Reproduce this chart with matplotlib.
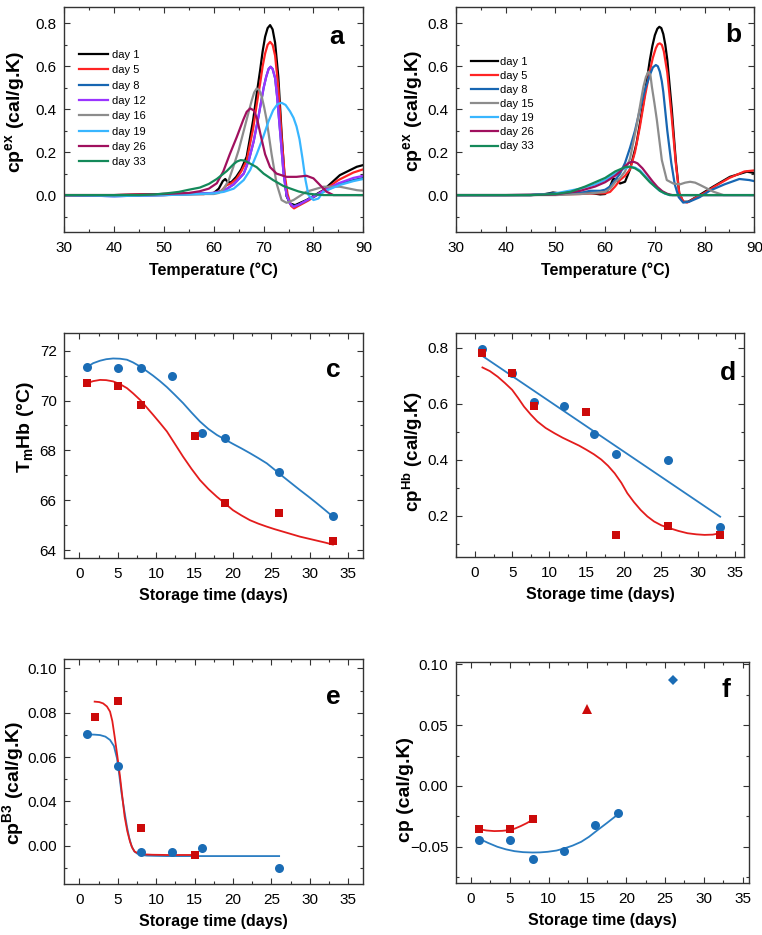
import numpy as np
import matplotlib
matplotlib.use('Agg')
import matplotlib.pyplot as plt
from matplotlib.ticker import MultipleLocator, FixedLocator, FixedFormatter

plt.rcParams['font.family'] = ['Liberation Sans', 'DejaVu Sans']
plt.rcParams['mathtext.fontset'] = 'custom'
plt.rcParams['mathtext.rm'] = 'Liberation Sans'
plt.rcParams['mathtext.bf'] = 'Liberation Sans:bold'

# ---------------- panel a: DSC curves ----------------
a_labels = ['day 1', 'day 5', 'day 8', 'day 12', 'day 16', 'day 19', 'day 26', 'day 33']
a_colors = ['#000000', '#ff2424', '#1766b2', '#9a34ff', '#8c8c8c', '#38b6ff', '#a0105e', '#14895a']

a_T_d1 = [30, 40, 50, 55, 58, 60, 61, 61.8, 62.3, 62.8, 63.5, 64.5, 65.5, 66.6, 67.9, 68.6, 69.3, 69.8,
          70.3, 70.8, 71.3, 71.8, 72.3, 72.95, 73.6, 74.15, 74.6, 75.3, 76.3, 78.6, 82, 85.3, 88.7, 90]
a_v_d1 = [0, 0, 0.005, 0.005, 0.005, 0.01, 0.03, 0.065, 0.075, 0.06, 0.06, 0.085, 0.12, 0.179, 0.35, 0.47,
          0.582, 0.67, 0.738, 0.778, 0.792, 0.772, 0.71, 0.551, 0.29, 0.1, -0.005, -0.039, -0.047,
          -0.023, 0.023, 0.093, 0.132, 0.14]
a_T_d5 = [30, 40, 50, 55, 58, 60, 61.5, 62.5, 63.5, 64.5, 65.5, 66.6, 67.9, 68.6, 69.3, 69.8, 70.3, 70.8,
          71.3, 71.8, 72.3, 72.95, 73.6, 74.2, 74.8, 75.5, 76.1, 77, 79, 82, 85, 88, 90]
a_v_d5 = [0, 0, 0.005, 0.005, 0.005, 0.01, 0.02, 0.045, 0.055, 0.075, 0.11, 0.16, 0.31, 0.42, 0.52, 0.6,
          0.66, 0.7, 0.714, 0.7, 0.65, 0.5, 0.27, 0.1, 0.005, -0.05, -0.062, -0.05, -0.025, 0.02, 0.07,
          0.105, 0.12]
a_T_d8 = [30, 40, 50, 55, 60, 62, 64, 66, 67, 68, 69, 70, 70.5, 71, 71.4, 71.8, 72.3, 72.7, 73.4, 74,
          74.6, 75.3, 76, 77, 79, 82, 85, 88, 90]
a_v_d8 = [0, -0.005, 0, 0.005, 0.01, 0.02, 0.05, 0.1, 0.16, 0.25, 0.37, 0.5, 0.55, 0.588, 0.598, 0.588,
          0.545, 0.46, 0.27, 0.1, 0.0, -0.04, -0.052, -0.045, -0.02, 0.015, 0.05, 0.07, 0.08]
a_T_d12 = a_T_d8
a_v_d12 = [0, -0.005, 0, 0.005, 0.01, 0.02, 0.05, 0.1, 0.16, 0.25, 0.37, 0.5, 0.55, 0.588, 0.598, 0.588,
           0.545, 0.46, 0.27, 0.1, 0.0, -0.04, -0.055, -0.045, -0.02, 0.02, 0.055, 0.08, 0.09]
a_T_d16 = [30, 40, 50, 55, 58, 60, 61, 62, 63, 63.9, 65, 65.9, 66.8, 67.6, 68.1, 68.6, 69.1, 69.6, 70.1,
           70.6, 71.6, 72.6, 73.6, 74.6, 76, 78.6, 82, 85.3, 88.7, 90]
a_v_d16 = [0, 0, 0, 0.003, 0.005, 0.005, 0.01, 0.03, 0.07, 0.13, 0.21, 0.29, 0.37, 0.44, 0.478, 0.497,
           0.49, 0.46, 0.41, 0.35, 0.19, 0.054, -0.023, -0.036, -0.023, 0.016, 0.039, 0.039, 0.023, 0.02]
a_T_d19 = [30, 40, 50, 55, 60, 62, 64, 66, 67.3, 68.6, 69.9, 71, 71.9, 72.8, 73.6, 74.4, 75.3, 76, 76.6,
           77.2, 77.8, 78.4, 79, 80, 81, 82, 85.3, 88, 90]
a_v_d19 = [0, -0.005, 0, 0.003, 0.008, 0.015, 0.03, 0.07, 0.117, 0.19, 0.27, 0.345, 0.395, 0.424, 0.43,
           0.42, 0.39, 0.36, 0.32, 0.26, 0.17, 0.07, 0.0, -0.023, -0.016, 0.016, 0.047, 0.065, 0.075]
a_T_d26 = [30, 40, 45, 50, 55, 57.2, 59, 60.6, 61.9, 63.2, 64.6, 65.9, 66.6, 67.3, 68, 68.7, 69.3, 70.3,
           71.3, 72.6, 74.6, 76.6, 78.6, 80, 81.3, 82.6, 84, 90]
a_v_d26 = [0, 0, 0.002, 0.005, 0.01, 0.018, 0.03, 0.055, 0.11, 0.19, 0.27, 0.35, 0.388, 0.404, 0.395,
           0.355, 0.29, 0.19, 0.13, 0.10, 0.085, 0.085, 0.09, 0.078, 0.047, 0.016, 0.0, 0.0]
a_T_d33 = [30, 40, 45, 48, 50.5, 53, 55, 57.2, 59, 60.6, 62.6, 64, 64.7, 65.4, 66.1, 66.8, 68.6, 70, 71.9,
           74, 75.3, 77, 78.6, 80, 82, 90]
a_v_d33 = [0, 0, 0, 0.003, 0.008, 0.015, 0.025, 0.035, 0.052, 0.075, 0.112, 0.145, 0.157, 0.163, 0.161,
           0.153, 0.13, 0.1, 0.07, 0.042, 0.031, 0.017, 0.008, 0.004, 0.0, 0.0]

# ---------------- panel b: DSC curves ----------------
b_labels = ['day 1', 'day 5', 'day 8', 'day 15', 'day 19', 'day 26', 'day 33']
b_colors = ['#000000', '#ff2424', '#1766b2', '#8c8c8c', '#38b6ff', '#a0105e', '#14895a']

b_T_d1 = [30, 40, 45, 48, 49.5, 51, 55, 57, 59, 60, 61, 61.6, 62.3, 63, 64, 65, 66.3, 67.7, 69, 69.5, 70,
          70.5, 70.9, 71.3, 71.7, 72.1, 72.5, 73.4, 74.2, 74.9, 75.7, 76.7, 78.4, 81.7, 85.1, 88.5, 90]
b_v_d1 = [0, 0, 0, 0.005, 0.012, 0.008, 0.01, 0.01, 0.003, 0.005, 0.04, 0.075, 0.075, 0.054, 0.062, 0.12,
          0.24, 0.43, 0.63, 0.695, 0.745, 0.775, 0.784, 0.778, 0.75, 0.7, 0.63, 0.40, 0.163, 0.008,
          -0.031, -0.031, -0.008, 0.039, 0.085, 0.109, 0.103]
b_T_d5 = [30, 40, 50, 55, 58, 60, 61, 62, 63, 64, 65, 66, 67, 68, 69, 69.6, 70.2, 70.6, 71, 71.4, 71.8,
          72.5, 73.4, 74.2, 74.9, 75.7, 76.5, 78, 80, 82, 85, 88, 90]
b_v_d5 = [0, 0, 0.003, 0.005, 0.008, 0.008, 0.015, 0.04, 0.07, 0.09, 0.12, 0.2, 0.32, 0.46, 0.58, 0.64,
          0.685, 0.703, 0.707, 0.7, 0.67, 0.57, 0.36, 0.15, 0.01, -0.03, -0.035, -0.015, 0.01, 0.04, 0.08,
          0.11, 0.115]
b_T_d8 = [30, 40, 50, 55, 57, 59, 60, 61, 62, 63, 64, 65, 66, 67, 68, 69, 69.6, 70.2, 70.6, 71, 71.4,
          71.7, 72.5, 73.3, 74, 74.8, 75.7, 77, 79, 81, 84, 87, 89, 90]
b_v_d8 = [0, 0, 0.003, 0.01, 0.02, 0.02, 0.025, 0.04, 0.07, 0.1, 0.15, 0.22, 0.3, 0.4, 0.49, 0.56, 0.595,
          0.606, 0.6, 0.575, 0.53, 0.48, 0.3, 0.15, 0.05, -0.01, -0.035, -0.03, -0.01, 0.02, 0.05, 0.075,
          0.07, 0.065]
b_T_d15 = [30, 40, 50, 55, 58, 60, 61, 62, 63, 64, 65, 66.3, 67.2, 67.7, 68.2, 68.7, 69.1, 69.4, 69.9,
           70.4, 71.4, 72.4, 73.7, 75.05, 76.1, 77.1, 78.1, 79.1, 81.75, 83.8, 90]
b_v_d15 = [0, 0, 0, 0.005, 0.01, 0.015, 0.03, 0.06, 0.08, 0.11, 0.17, 0.32, 0.44, 0.505, 0.55, 0.575,
           0.56, 0.505, 0.43, 0.35, 0.163, 0.07, 0.054, 0.05, 0.058, 0.062, 0.058, 0.047, 0.016, 0.0, 0.0]
b_T_d19 = [30, 40, 45, 50, 55, 58, 60, 62, 64, 65, 66, 67, 68, 69, 70, 71, 72, 73, 75, 90]
b_v_d19 = [0, 0, 0, 0.008, 0.03, 0.05, 0.07, 0.1, 0.125, 0.132, 0.128, 0.115, 0.09, 0.065, 0.04, 0.02,
           0.007, 0.0, 0.0, 0.0]
b_T_d26 = [30, 40, 45, 50, 55, 58, 60, 62, 63, 64, 64.7, 65.3, 65.9, 66.5, 67.5, 68.5, 69.5, 70.5, 71.5,
           72.5, 73.5, 75, 90]
b_v_d26 = [0, 0, 0, 0.003, 0.02, 0.04, 0.06, 0.09, 0.11, 0.135, 0.149, 0.155, 0.154, 0.148, 0.125, 0.095,
           0.065, 0.038, 0.018, 0.006, 0.0, 0.0, 0.0]
b_T_d33 = [30, 40, 45, 50, 53, 56, 58, 60, 62, 64, 65, 66, 67, 68, 69, 70, 71, 72, 73, 75, 90]
b_v_d33 = [0, 0, 0, 0.005, 0.015, 0.04, 0.06, 0.08, 0.11, 0.13, 0.132, 0.125, 0.11, 0.085, 0.06, 0.04,
           0.02, 0.008, 0.0, 0.0, 0.0]

# ---------------- panel c: Tm ----------------
c_blue_days = [1, 5, 8, 12, 16, 19, 26, 33]
c_blue_vals = [71.34, 71.30, 71.32, 71.0, 68.69, 68.49, 67.15, 65.36]
c_red_days = [1, 5, 8, 15, 19, 26, 33]
c_red_vals = [70.70, 70.60, 69.83, 68.56, 65.90, 65.50, 64.36]
c_blue_fit_x = [1, 1.8, 2.7, 3.5, 4.4, 5.3, 6.2, 7.0, 7.9, 8.7, 9.6, 10.5, 11.4, 12.4, 13.5, 14.6, 15.7,
                16.8, 17.9, 19, 20, 21.1, 22.2, 23.3, 24.4, 25.4, 26.5, 27.6, 28.7, 29.8, 30.9, 32, 33]
c_blue_fit_y = [71.34, 71.5, 71.6, 71.66, 71.69, 71.68, 71.64, 71.53, 71.37, 71.2, 71.0, 70.78, 70.54,
                70.24, 69.9, 69.52, 69.16, 68.86, 68.62, 68.43, 68.26, 68.08, 67.89, 67.69, 67.48, 67.23,
                66.95, 66.68, 66.41, 66.15, 65.88, 65.6, 65.34]
c_red_fit_x = [1, 1.8, 2.7, 3.5, 4.4, 5.3, 6.2, 7.0, 7.9, 8.7, 9.6, 10.5, 11.4, 12.4, 13.5, 14.6, 15.7,
               16.8, 17.9, 19, 20, 21.1, 22.2, 23.3, 24.4, 25.4, 26.5, 27.6, 28.7, 29.8, 30.9, 32, 33]
c_red_fit_y = [70.7, 70.78, 70.83, 70.82, 70.77, 70.66, 70.5, 70.29, 70.03, 69.75, 69.43, 69.1, 68.76,
               68.28, 67.75, 67.26, 66.81, 66.45, 66.14, 65.86, 65.6, 65.39, 65.2, 65.06, 64.94, 64.84,
               64.74, 64.64, 64.54, 64.46, 64.38, 64.3, 64.22]

# ---------------- panel d: cp Hb ----------------
d_blue_days = [1, 5, 8, 12, 16, 19, 26, 33]
d_blue_vals = [0.794, 0.711, 0.604, 0.592, 0.49, 0.42, 0.40, 0.16]
d_red_days = [1, 5, 8, 15, 19, 26, 33]
d_red_vals = [0.78, 0.71, 0.59, 0.571, 0.131, 0.161, 0.131]
d_blue_fit_x = [1, 33]
d_blue_fit_y = [0.77, 0.196]
d_red_fit_x = [1, 2, 3.05, 4, 5, 5.8, 6.6, 7.5, 8.4, 9.5, 10.7, 11.8, 12.9, 14, 15, 16, 17, 17.9, 18.8,
               19.7, 20.5, 21.4, 22.3, 23.2, 24.1, 25.1, 26.2, 27.4, 28.6, 29.8, 30.9, 32, 33]
d_red_fit_y = [0.729, 0.716, 0.696, 0.674, 0.649, 0.62, 0.589, 0.561, 0.536, 0.513, 0.494, 0.478, 0.464,
               0.45, 0.435, 0.419, 0.40, 0.378, 0.351, 0.317, 0.28, 0.248, 0.22, 0.197, 0.179, 0.165,
               0.155, 0.145, 0.137, 0.133, 0.131, 0.132, 0.137]

# ---------------- panel e: cp B3 ----------------
# the reference labels its 0.02 tick "0.00"; values are kept on the axis' own linear scale
e_blue_days = [1, 5, 8, 12, 16, 26]
e_blue_vals = [0.0702, 0.0561, 0.017, 0.017, 0.0188, 0.0098]
e_red_days = [2, 5, 8, 15]
e_red_vals = [0.0782, 0.0853, 0.0281, 0.0158]
e_blue_fit_x = [1, 2, 2.7, 3.4, 4, 4.5, 4.9, 5.2, 5.5, 5.85, 6.2, 6.5, 6.8, 7.15, 7.5, 8.1, 8.8, 10,
                11.4, 26]
e_blue_fit_y = [0.0702, 0.0701, 0.0699, 0.0692, 0.0677, 0.065, 0.0595, 0.052, 0.0436, 0.036, 0.0286,
                0.0235, 0.0198, 0.0175, 0.0165, 0.0158, 0.0155, 0.0154, 0.0153, 0.0153]
e_red_fit_x = [2, 2.6, 3.1, 3.6, 4, 4.3, 4.6, 4.95, 5.3, 5.6, 5.9, 6.25, 6.6, 6.9, 7.2, 7.7, 8.3, 9.5,
               11.4, 15]
e_red_fit_y = [0.085, 0.0848, 0.0842, 0.0828, 0.0805, 0.0762, 0.0692, 0.0605, 0.0511, 0.042, 0.0331,
               0.0265, 0.0218, 0.019, 0.0173, 0.0165, 0.0161, 0.0159, 0.0158, 0.0158]
e_yticks = [0.02, 0.04, 0.06, 0.08, 0.10]
e_yticklabels = ['0.00', '0.04', '0.06', '0.08', '0.10']

# ---------------- panel f: cp ----------------
f_blue_days = [1, 5, 8, 12, 16, 19]
f_blue_vals = [-0.0445, -0.0445, -0.0604, -0.0533, -0.0322, -0.0226]
f_red_days = [1, 5, 8]
f_red_vals = [-0.0355, -0.0355, -0.0275]
f_tri_day = [15]
f_tri_val = [0.063]
f_dia_day = [26]
f_dia_val = [0.0871]
f_blue_fit_x = [1, 2.2, 3.4, 4.5, 5.6, 6.7, 7.9, 8.9, 9.9, 11, 12, 13.1, 14.2, 15.2, 16.3, 17.5, 18.8]
f_blue_fit_y = [-0.0432, -0.0468, -0.05, -0.0521, -0.0536, -0.0544, -0.0547, -0.0546, -0.0541, -0.0531,
                -0.0514, -0.049, -0.0459, -0.0418, -0.0363, -0.0305, -0.024]
f_red_fit_x = [1, 2, 3, 4, 5, 5.7, 6.4, 7.2, 8]
f_red_fit_y = [-0.0355, -0.0366, -0.0371, -0.0369, -0.0363, -0.0349, -0.033, -0.0305, -0.0275]

BLUE = '#1a6cb5'
RED = '#cc0a0a'
BLUE_LINE = '#2a7dc2'
RED_LINE = '#e31c1c'

W, H = 762, 935
fig = plt.figure(figsize=(W / 100, H / 100), dpi=100)


def rect(l, r, t, b):
    return [l / W, 1 - b / H, (r - l) / W, (b - t) / H]


def style(ax, xmaj, xmin, ymaj, ymin):
    ax.xaxis.set_major_locator(MultipleLocator(xmaj))
    ax.xaxis.set_minor_locator(MultipleLocator(xmin))
    ax.yaxis.set_major_locator(MultipleLocator(ymaj))
    ax.yaxis.set_minor_locator(MultipleLocator(ymin))
    ax.tick_params(which='both', direction='in', top=True, right=True, width=0.8,
                   color='#333333', labelsize=11)
    ax.tick_params(which='major', length=4)
    ax.tick_params(which='minor', length=2)
    ax.tick_params(axis='x', which='major', pad=6.5)
    ax.tick_params(axis='y', which='major', pad=5.5)
    for s in ax.spines.values():
        s.set_color('#333333')
        s.set_linewidth(1.0)


def panel_letter(x, y, s):
    fig.text(x / W, 1 - y / H, s, fontsize=19, fontweight='bold', ha='center', va='center')


def y_label(x, y, s, size):
    # y labels in the reference are drawn a bit larger than the x labels
    fig.text(x / W, 1 - y / H, s, fontsize=size, fontweight='bold', rotation=90,
             ha='center', va='center')


lab_kw = dict(fontsize=11.5, fontweight='bold')

# a
ax = fig.add_axes(rect(64.3, 363.3, 7.3, 232))
a_T = [a_T_d1, a_T_d5, a_T_d8, a_T_d12, a_T_d16, a_T_d19, a_T_d26, a_T_d33]
a_v = [a_v_d1, a_v_d5, a_v_d8, a_v_d12, a_v_d16, a_v_d19, a_v_d26, a_v_d33]
for T, v, c, lab in zip(a_T, a_v, a_colors, a_labels):
    ax.plot(T, v, color=c, lw=1.6, label=lab)
ax.set_xlim(30, 90)
ax.set_ylim(-0.172, 0.875)
style(ax, 10, 5, 0.2, 0.1)
ax.set_xlabel('Temperature (°C)', labelpad=5, **lab_kw)
y_label(16, 112, r'$\mathbf{cp}^{\mathbf{ex}}$ (cal/g.K)', 14)
ax.legend(loc='upper left', bbox_to_anchor=(0.049, 0.81), frameon=False, fontsize=8,
          handlelength=2.6, handletextpad=0.35, labelspacing=0.48, borderpad=0, borderaxespad=0)
panel_letter(337, 37, 'a')

# b
ax = fig.add_axes(rect(456, 754.3, 7.3, 232))
b_T = [b_T_d1, b_T_d5, b_T_d8, b_T_d15, b_T_d19, b_T_d26, b_T_d33]
b_v = [b_v_d1, b_v_d5, b_v_d8, b_v_d15, b_v_d19, b_v_d26, b_v_d33]
for T, v, c, lab in zip(b_T, b_v, b_colors, b_labels):
    ax.plot(T, v, color=c, lw=1.6, label=lab)
ax.set_xlim(30, 90)
ax.set_ylim(-0.172, 0.875)
style(ax, 10, 5, 0.2, 0.1)
ax.set_xlabel('Temperature (°C)', labelpad=5, **lab_kw)
y_label(414, 111, r'$\mathbf{cp}^{\mathbf{ex}}$ (cal/g.K)', 14)
ax.legend(loc='upper left', bbox_to_anchor=(0.05, 0.78), frameon=False, fontsize=8,
          handlelength=2.4, handletextpad=0.2, labelspacing=0.37, borderpad=0, borderaxespad=0)
panel_letter(733, 35, 'b')

mk = dict(linestyle='none', markeredgewidth=0)

# c
ax = fig.add_axes(rect(64.3, 363.3, 333.3, 558.3))
ax.plot(c_blue_fit_x, c_blue_fit_y, color=BLUE_LINE, lw=1.3)
ax.plot(c_red_fit_x, c_red_fit_y, color=RED_LINE, lw=1.3)
ax.plot(c_blue_days, c_blue_vals, 'o', color=BLUE, ms=6.5, **mk)
ax.plot(c_red_days, c_red_vals, 's', color=RED, ms=5.6, **mk)
ax.set_xlim(-1.95, 36.95)
ax.set_ylim(63.67, 72.7)
style(ax, 5, 2.5, 2, 1)
ax.set_xlabel('Storage time (days)', labelpad=5, **lab_kw)
y_label(25, 427, r'T$_{\mathbf{m}}$Hb (°C)', 14)
panel_letter(333, 370, 'c')

# d
ax = fig.add_axes(rect(456, 744.3, 333.3, 557.3))
ax.plot(d_blue_fit_x, d_blue_fit_y, color=BLUE_LINE, lw=1.3)
ax.plot(d_red_fit_x, d_red_fit_y, color=RED_LINE, lw=1.3)
ax.plot(d_blue_days, d_blue_vals, 'o', color=BLUE, ms=6.5, **mk)
ax.plot(d_red_days, d_red_vals, 's', color=RED, ms=5.6, **mk)
ax.set_xlim(-2.56, 36.25)
ax.set_ylim(0.051, 0.851)
style(ax, 5, 2.5, 0.2, 0.1)
ax.set_xlabel('Storage time (days)', labelpad=5, **lab_kw)
y_label(413, 452, r'$\mathbf{cp}^{\mathbf{Hb}}$ (cal/g.K)', 13.5)
panel_letter(728, 373, 'd')

# e
ax = fig.add_axes(rect(64.3, 363.3, 659.3, 884))
ax.plot(e_blue_fit_x, e_blue_fit_y, color=BLUE_LINE, lw=1.3)
ax.plot(e_red_fit_x, e_red_fit_y, color=RED_LINE, lw=1.3)
ax.plot(e_blue_days, e_blue_vals, 'o', color=BLUE, ms=6.5, **mk)
ax.plot(e_red_days, e_red_vals, 's', color=RED, ms=5.6, **mk)
ax.set_xlim(-1.95, 36.95)
ax.set_ylim(0.0027, 0.1041)
style(ax, 5, 2.5, 0.02, 0.01)
ax.yaxis.set_major_locator(FixedLocator(e_yticks))
ax.yaxis.set_major_formatter(FixedFormatter(e_yticklabels))
ax.set_xlabel('Storage time (days)', labelpad=5, **lab_kw)
y_label(14, 783, r'$\mathbf{cp}^{\mathbf{B3}}$ (cal/g.K)', 14)
panel_letter(333, 697, 'e')

# f
ax = fig.add_axes(rect(456, 749.3, 661.7, 883.3))
ax.plot(f_blue_fit_x, f_blue_fit_y, color=BLUE_LINE, lw=1.3)
ax.plot(f_red_fit_x, f_red_fit_y, color=RED_LINE, lw=1.3)
ax.plot(f_blue_days, f_blue_vals, 'o', color=BLUE, ms=6.5, **mk)
ax.plot(f_red_days, f_red_vals, 's', color=RED, ms=5.6, **mk)
ax.plot(f_tri_day, f_tri_val, '^', color=RED, ms=7, **mk)
ax.plot(f_dia_day, f_dia_val, 'D', color=BLUE, ms=5.5, **mk)
ax.set_xlim(-1.93, 35.85)
ax.set_ylim(-0.080, 0.1021)
style(ax, 5, 2.5, 0.05, 0.025)
ax.set_xlabel('Storage time (days)', labelpad=5, **lab_kw)
y_label(406, 789, 'cp (cal/g.K)', 14)
panel_letter(726, 690, 'f')

fig.savefig('out.png', dpi=100)
